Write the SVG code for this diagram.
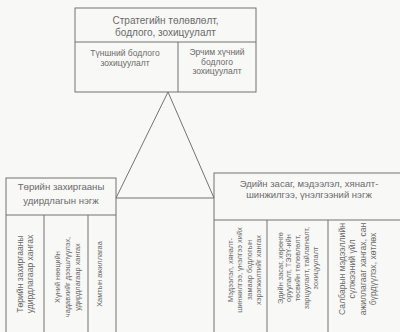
<svg xmlns="http://www.w3.org/2000/svg" width="400" height="332" viewBox="0 0 400 332">
<style>
.box{fill:none;stroke:#737373;stroke-width:1}
.ln{fill:none;stroke:#737373;stroke-width:1}
text{font-family:"Liberation Sans","Noto Sans",sans-serif;fill:#6a6a6a}
.t1{font-size:10px;text-anchor:middle}
.t2{font-size:8.5px;text-anchor:middle}
.v{font-size:7.4px;text-anchor:middle}
.vb{font-size:8.6px;text-anchor:middle}
</style>
<rect x="0" y="0" width="400" height="332" fill="#f8f8f7"/>
<g id="connectors">
<polyline class="ln" points="116,198 168,92 214,198"/>
<line class="ln" x1="116" y1="198" x2="214" y2="198"/>
</g>
<g id="top">
<rect class="box" x="75" y="8" width="181" height="84"/>
<line class="ln" x1="75" y1="42" x2="256" y2="42"/>
<line class="ln" x1="178" y1="42" x2="178" y2="92"/>
<text class="t1" x="165.5" y="24">Стратегийн төлөвлөлт,</text>
<text class="t1" x="165.5" y="36">бодлого, зохицуулалт</text>
<text class="t2" x="125" y="56">Түншний бодлого</text>
<text class="t2" x="125" y="66">зохицуулалт</text>
<text class="t2" x="217" y="55">Эрчим хүчний</text>
<text class="t2" x="217" y="64.5">бодлого</text>
<text class="t2" x="217" y="74">зохицуулалт</text>
</g>
<g id="left">
<rect class="box" x="6" y="178" width="110" height="170"/>
<line class="ln" x1="6" y1="215" x2="116" y2="215"/>
<line class="ln" x1="44" y1="215" x2="44" y2="332"/>
<line class="ln" x1="88" y1="215" x2="88" y2="332"/>
<text class="t1" x="61" y="190" style="font-size:9.6px">Төрийн захиргааны</text>
<text class="t1" x="61" y="204" style="font-size:9.6px">удирдлагын нэгж</text>
<text class="vb" transform="translate(0,274) rotate(-90)"><tspan x="0" y="23">Төрийн захиргааны</tspan><tspan x="0" y="33">удирдлагаар хангах</tspan></text>
<text class="v" transform="translate(0,277) rotate(-90)"><tspan x="0" y="59.5">Хүний нөөцийн</tspan><tspan x="0" y="69.5">чадавхийг дээшлүүлэх,</tspan><tspan x="0" y="79.5">удирдлагаар хангах</tspan></text>
<text class="v" transform="translate(0,274) rotate(-90)"><tspan x="0" y="101.5">Хамтын ажиллагаа</tspan></text>
</g>
<g id="right">
<rect class="box" x="214" y="173" width="200" height="175"/>
<line class="ln" x1="214" y1="220" x2="400" y2="220"/>
<line class="ln" x1="267" y1="220" x2="267" y2="332"/>
<line class="ln" x1="328" y1="220" x2="328" y2="332"/>
<text class="t1" x="309" y="187" style="font-size:9.5px">Эдийн засаг, мэдээлэл, хяналт-</text>
<text class="t1" x="309" y="198" style="font-size:9.5px">шинжилгээ, үнэлгээний нэгж</text>
<text class="v" transform="translate(0,270) rotate(-90)"><tspan x="0" y="232.5">Мэдээлэл, хяналт-</tspan><tspan x="0" y="242">шинжилгээ, үнэлгээ хийх</tspan><tspan x="0" y="251.5">замаар бодлогын</tspan><tspan x="0" y="261">хэрэгжилтийг хангах</tspan></text>
<text class="v" transform="translate(0,268) rotate(-90)"><tspan x="0" y="282.5">Эдийн засаг, хөрөнгө</tspan><tspan x="0" y="291.3">оруулалт, ТЭЗҮ-ийн</tspan><tspan x="0" y="300.1">төсвийн төлөвлөлт,</tspan><tspan x="0" y="308.9">зарцуулалт, тайлагналт,</tspan><tspan x="0" y="317.7">зохицуулалт</tspan></text>
<text class="vb" transform="translate(0,269) rotate(-90)"><tspan x="0" y="345">Салбарын мэдээллийн</tspan><tspan x="0" y="355.3">сүлжээний үйл</tspan><tspan x="0" y="365.6">ажиллагааг хангах, сан</tspan><tspan x="0" y="375.9">бүрдүүлэх, хөтлөх</tspan></text>
</g>
</svg>
